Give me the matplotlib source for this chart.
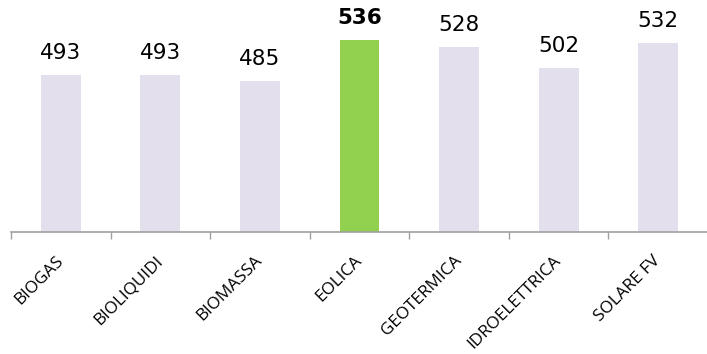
import matplotlib
matplotlib.use("Agg")
import matplotlib.pyplot as plt

categories = ["BIOGAS", "BIOLIQUIDI", "BIOMASSA", "EOLICA", "GEOTERMICA", "IDROELETTRICA", "SOLARE FV"]
values = [493, 493, 485, 536, 528, 502, 532]
highlight = "EOLICA"

base_color = "#E4DFEC"
hl_color = "#92D050"
axis_color = "#A0A0A0"

W, H = 707, 354
fig = plt.figure(figsize=(W / 100, H / 100), dpi=100)
ax = fig.add_axes([11 / W, (H - 232) / H, 697 / W, 232 / H])

x = list(range(len(categories)))
colors = [hl_color if c == highlight else base_color for c in categories]
ax.bar(x, values, width=0.40, color=colors, zorder=2)

ax.set_xlim(-0.5, len(categories) - 0.5)
ax.set_ylim(297.6, 586)

for xi, v, c in zip(x, values, categories):
    bold = c == highlight
    ax.annotate(str(v), xy=(xi, v), xytext=(0, 11.5), textcoords="offset points",
                ha="center", va="baseline", fontsize=15.5,
                fontweight="bold" if bold else "normal",
                color="black", family="DejaVu Sans")

for s in ["left", "right", "top"]:
    ax.spines[s].set_visible(False)
ax.spines["bottom"].set_color(axis_color)
ax.spines["bottom"].set_linewidth(1.2)
ax.set_yticks([])

# boundary ticks
ax.set_xticks([i - 0.5 for i in range(len(categories) + 1)], minor=False)
ax.set_xticklabels([""] * (len(categories) + 1))
ax.tick_params(axis="x", which="major", direction="out", length=5, width=1, color=axis_color)

# category labels as minor ticks
ax.set_xticks(x, minor=True)
ax.set_xticklabels(categories, minor=True, rotation=45, ha="right", va="center",
                   rotation_mode="anchor", fontsize=12.3, family="Open Sans", color="black")
ax.tick_params(axis="x", which="minor", length=0, pad=19)

fig.savefig("out.png", dpi=100)
